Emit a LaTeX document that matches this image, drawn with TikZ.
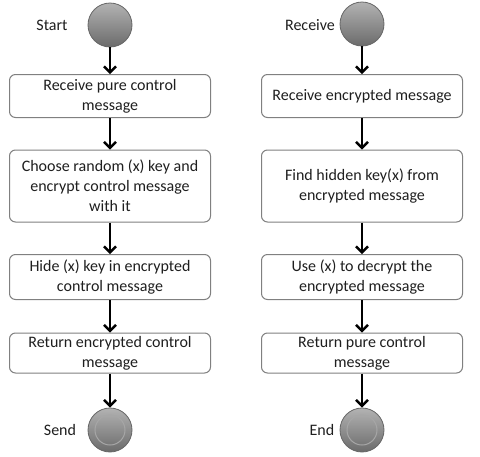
\documentclass[tikz,border=0pt]{standalone}
\usepackage{fontspec}
\setmainfont{Carlito}
\usetikzlibrary{arrows.meta}
\begin{document}
\begin{tikzpicture}[x=1pt,y=-1pt,
  stepbox/.style={draw=black!50,line width=1pt,rounded corners=6pt,fill=white,
    minimum width=201pt,align=center,inner sep=0pt,text=black!88,
    font=\fontsize{16}{20}\selectfont},
  startc/.style={circle,draw=black!60,line width=0.8pt,minimum size=44pt,inner sep=0pt,
    top color=black!30,bottom color=black!58},
  endc/.style={startc},
  lbl/.style={font=\fontsize{16}{19}\selectfont,inner sep=0pt,text=black!88},
  flow/.style={line width=2.6pt,-{Straight Barb[length=6pt,width=12pt,line width=2.4pt]}}
]
\useasboundingbox (0,0) rectangle (480,456);
\fill[white] (0,0) rectangle (480,456);
% left column
\node[startc] (s) at (110,25) {};
\node[lbl] (sl) at (52,25) {Start};
\node[stepbox,minimum height=43pt] (a1) at (110,96) {Receive pure control\\message};
\node[stepbox,minimum height=72pt] (a2) at (110,186) {Choose random (x) key and\\encrypt control message\\with it};
\node[stepbox,minimum height=45pt] (a3) at (110,277) {Hide (x) key in encrypted\\control message};
\node[stepbox,minimum height=40pt] (a4) at (110,353) {Return encrypted control\\message};
\node[endc] (se) at (110,430) {};
\draw[black!35,line width=1pt] (se.center) circle (15pt);
\node[lbl] (sel) at (60,430) {Send};
% right column
\node[startc] (r) at (362,24) {};
\node[lbl] (rl) at (310,25) {Receive};
\node[stepbox,minimum height=43pt] (b1) at (362,96) {Receive encrypted message};
\node[stepbox,minimum height=72pt] (b2) at (362,186) {Find hidden key(x) from\\encrypted message};
\node[stepbox,minimum height=45pt] (b3) at (362,277) {Use (x) to decrypt the\\encrypted message};
\node[stepbox,minimum height=40pt] (b4) at (362,353) {Return pure control\\message};
\node[endc] (re) at (362,430) {};
\draw[black!35,line width=1pt] (re.center) circle (15pt);
\node[lbl] (rel) at (322,430) {End};
% arrows
\draw[flow] (s) -- (a1);
\draw[flow] (a1) -- (a2);
\draw[flow] (a2) -- (a3);
\draw[flow] (a3) -- (a4);
\draw[flow] (a4) -- (se);
\draw[flow] (r) -- (b1);
\draw[flow] (b1) -- (b2);
\draw[flow] (b2) -- (b3);
\draw[flow] (b3) -- (b4);
\draw[flow] (b4) -- (re);
\end{tikzpicture}
\end{document}
